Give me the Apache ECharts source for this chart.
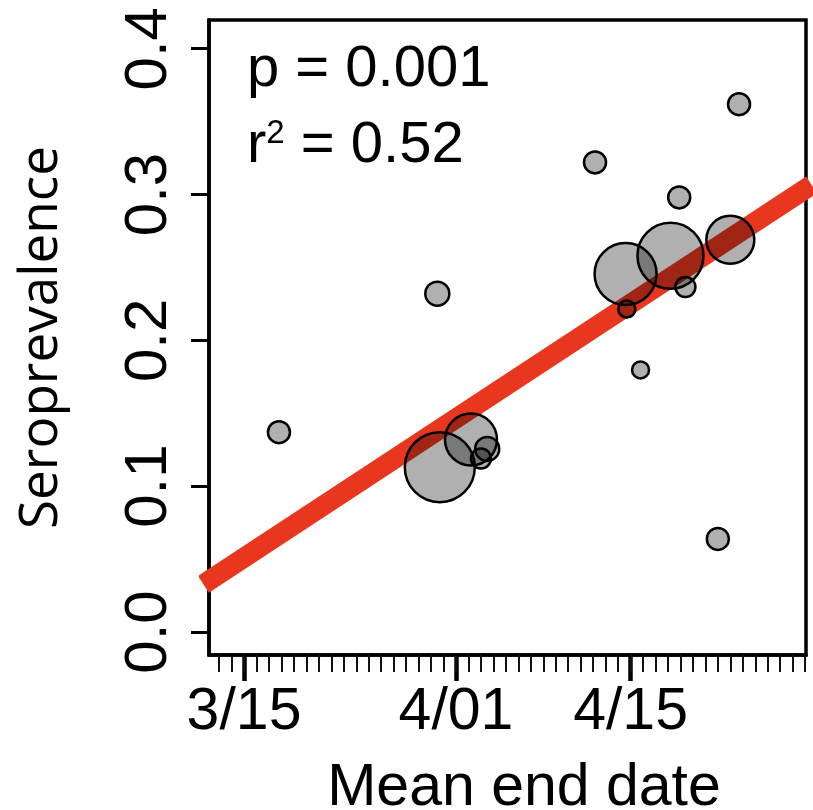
<!DOCTYPE html>
<html>
<head>
<meta charset="utf-8">
<script src="https://cdn.jsdelivr.net/npm/echarts@6/dist/echarts.min.js"></script>
<style>
  html, body { margin: 0; padding: 0; background: #fff; }
  #chart { width: 813px; height: 810px; }
</style>
</head>
<body>
<div id="chart"></div>
<script>
// days counted from 3/15 (day 0)
var tickDays = [0, 17, 31];
var tickLabels = ['3/15', '4/01', '4/15'];
var minorDays = [];
for (var d = -2; d <= 45; d++) minorDays.push(d);

var yTicks = [0, 0.1, 0.2, 0.3, 0.4];

// survey mean end date (day), seroprevalence, relative sample weight
var surveyDay = [2.8, 15.5, 15.7, 18.2, 19.5, 19.0, 28.15, 39.7, 34.9, 30.6, 34.2, 39.0, 35.4, 30.7, 31.8, 38.0];
var seroprev  = [0.137, 0.232, 0.113, 0.132, 0.1255, 0.119, 0.322, 0.362, 0.298, 0.2455, 0.258, 0.269, 0.2366, 0.2215, 0.1797, 0.0638];
var weight    = [121, 144, 1225, 676, 144, 100, 121, 121, 121, 961, 1089, 576, 100, 72, 72, 121];

// regression line end points (a little past the axis ends, clipped by the grid)
var fitLine = [[-3.26, 0.0327], [45.52, 0.3066]];

var bubbles = surveyDay.map(function (x, i) { return [x, seroprev[i], weight[i]]; });

var chart = echarts.init(document.getElementById('chart'));// init chart

var option = {
    animation: false,
    backgroundColor: '#fff',
    grid: {
        left: 209, right: 7, top: 20, bottom: 155,
        outerBoundsMode: 'none', containLabel: false,
        show: true, borderColor: '#000', borderWidth: 3.5, backgroundColor: 'transparent'
    },
    xAxis: [{
        type: 'value',
        min: -2.81, max: 45.07,
        position: 'bottom',
        name: 'Mean end date',
        nameLocation: 'middle',
        nameGap: 104,
        nameTextStyle: { fontFamily: 'Liberation Sans', fontSize: 59, color: '#000', padding: [0, 0, 0, 33] },
        axisLine: { show: true, onZero: false, lineStyle: { color: '#000', width: 3.5 } },
        axisTick: { show: true, length: 26, customValues: tickDays, lineStyle: { color: '#000', width: 4.5 } },
        axisLabel: {
            customValues: tickDays, margin: 28,
            fontFamily: 'Liberation Sans', fontSize: 59, color: '#000',
            formatter: function (v) { return tickLabels[tickDays.indexOf(Math.round(v))]; }
        },
        splitLine: { show: false }
    }, {
        type: 'value',
        min: -2.81, max: 45.07,
        position: 'bottom',
        axisLine: { show: false, onZero: false },
        axisTick: { show: true, length: 17, customValues: minorDays, lineStyle: { color: '#111', width: 2 } },
        axisLabel: { show: false },
        splitLine: { show: false }
    }],
    yAxis: {
        type: 'value',
        min: -0.0158, max: 0.4197,
        name: 'Seroprevalence',
        nameLocation: 'middle',
        nameGap: 141,
        nameTextStyle: { fontFamily: 'Open Sans', fontSize: 53, color: '#000' },
        axisLine: { show: true, onZero: false, lineStyle: { color: '#000', width: 3.5 } },
        axisTick: { show: true, length: 18, customValues: yTicks, lineStyle: { color: '#000', width: 3 } },
        axisLabel: {
            customValues: yTicks, rotate: 90, margin: 30,
            fontFamily: 'Liberation Sans', fontSize: 60, color: '#000',
            formatter: function (v) { return v.toFixed(1); }
        },
        splitLine: { show: false }
    },
    graphic: [{
        type: 'text', left: 247, top: 41,
        style: { text: 'p = 0.001', font: '58px "Liberation Sans"', fill: '#000' }
    }, {
        type: 'text', left: 247, top: 117,
        style: {
            text: 'r{sup|2} = 0.52', font: '58px "Liberation Sans"', fill: '#000',
            rich: { sup: { fontSize: 33, fontFamily: 'Liberation Sans', verticalAlign: 'top', padding: [0, 0, 25, 0] } }
        }
    }],
    series: [{
        type: 'line',
        data: fitLine,
        symbol: 'none',
        clip: true,
        z: 1,
        lineStyle: { color: '#e8361f', width: 20, cap: 'butt' }
    }, {
        type: 'scatter',
        data: bubbles,
        z: 2,
        symbolSize: function (v) { return 2 * Math.sqrt(v[2]); },
        itemStyle: { color: 'rgba(0,0,0,0.31)', borderColor: '#000', borderWidth: 2.5, opacity: 1 }
    }]
};
chart.setOption(option);

window.onresize = function () {
    chart.resize();
};
</script>
</body>
</html>
